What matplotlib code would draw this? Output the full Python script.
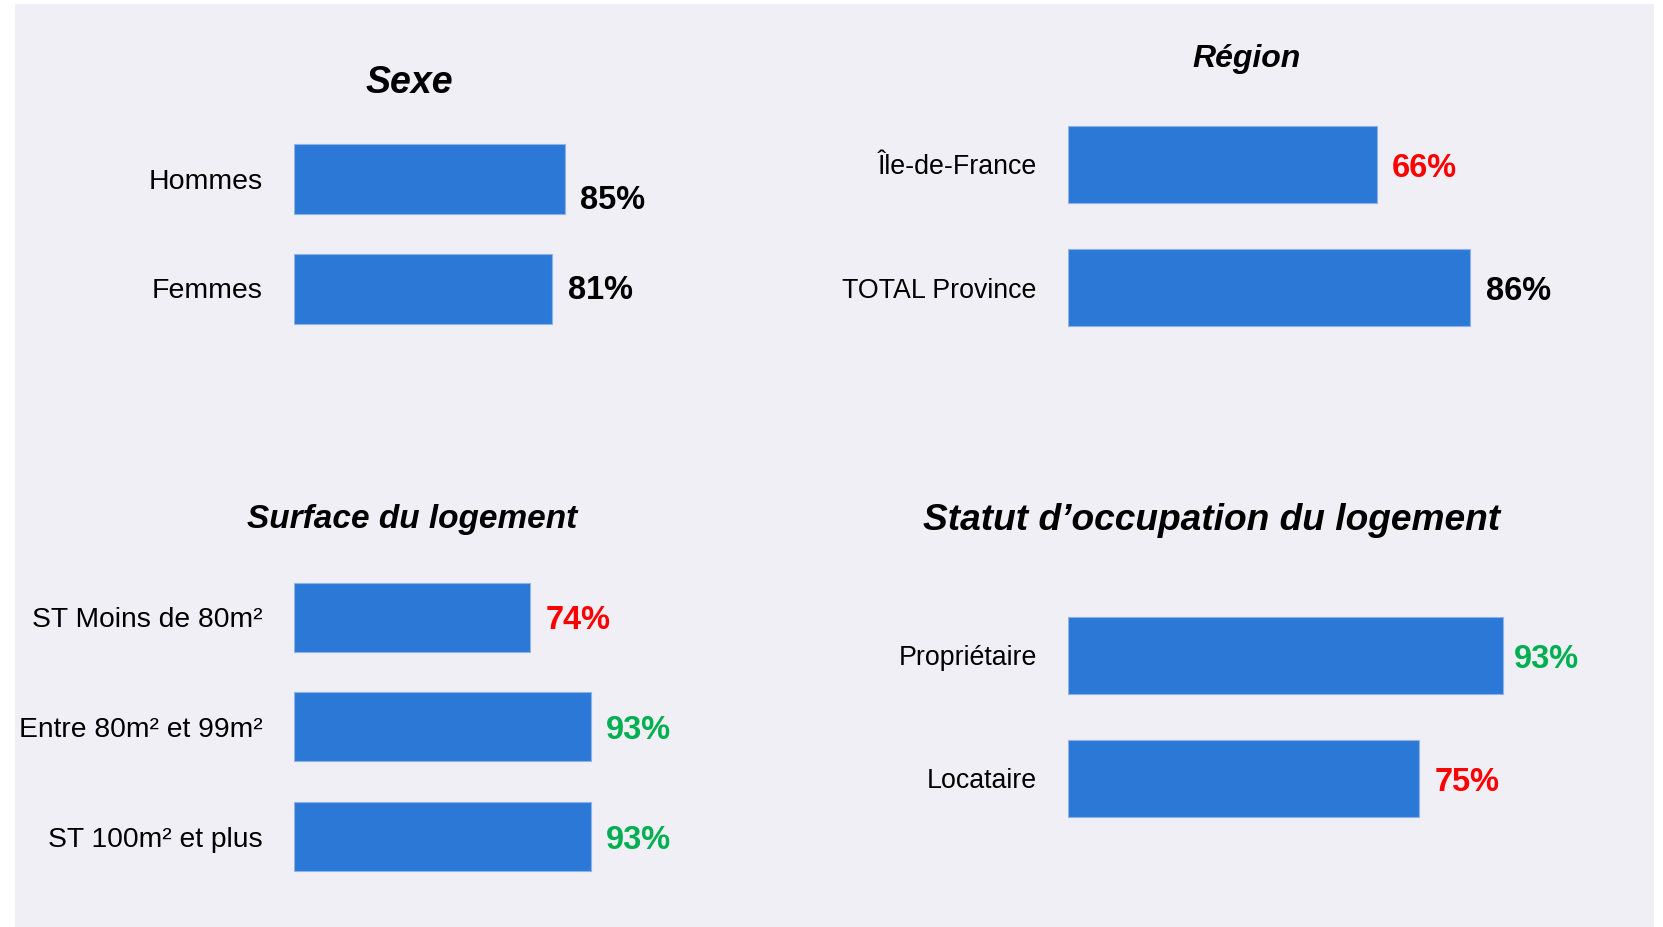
import matplotlib
matplotlib.use("Agg")
import matplotlib.pyplot as plt
from matplotlib.patches import Rectangle

plt.rcParams['font.family'] = ['Liberation Sans', 'DejaVu Sans']

# ---------------- data ----------------
sexe_cats = ["Hommes", "Femmes"]
sexe_vals = [85, 81]
sexe_cols = ["black", "black"]

region_cats = ["Île-de-France", "TOTAL Province"]
region_vals = [66, 86]
region_cols = ["red", "black"]

surface_cats = ["ST Moins de 80m²", "Entre 80m² et 99m²", "ST 100m² et plus"]
surface_vals = [74, 93, 93]
surface_cols = ["red", "#00B050", "#00B050"]

statut_cats = ["Propriétaire", "Locataire"]
statut_vals = [93, 75]
statut_cols = ["#00B050", "red"]

W, H = 1663, 927
BG = "#F0EFF5"
BAR = "#2B78D6"

fig = plt.figure(figsize=(W / 100, H / 100), dpi=100)
fig.patch.set_facecolor("white")
fig.add_artist(Rectangle((15 / W, 0), (1654 - 15) / W, (927 - 4) / H,
                         transform=fig.transFigure, facecolor=BG,
                         edgecolor="none", zorder=-10))


def px_axes(x0, x1, y_top, y_bot):
    return fig.add_axes([x0 / W, 1 - y_bot / H, (x1 - x0) / W, (y_bot - y_top) / H])


def panel(cats, vals, cols, x0, full100, c_first, spacing, bh, title, tx, ty, tsize,
          tick_size=20.5, label_dy=None, label_dx=None):
    n = len(cats)
    y_top = c_first - spacing / 2
    y_bot = c_first + spacing * (n - 1) + spacing / 2
    ax = px_axes(x0, x0 + full100, y_top, y_bot)
    ax.set_facecolor("none")
    ypos = list(range(n))
    ax.barh(ypos, vals, height=bh / spacing, color=BAR,
            edgecolor="#8CB4EA", linewidth=0.8)
    ax.set_xlim(0, 100)
    ax.set_ylim(n - 0.5, -0.5)
    ax.set_yticks(ypos)
    ax.set_yticklabels(cats, fontsize=tick_size)
    ax.tick_params(axis="y", length=0, pad=22.5)
    ax.set_xticks([])
    for s in ax.spines.values():
        s.set_visible(False)
    for i, (v, c) in enumerate(zip(vals, cols)):
        dy = label_dy[i] if label_dy else 0.035
        dx = label_dx[i] if label_dx else 11
        ax.annotate(f"{v}%", (v, i + dy), xytext=(dx, 0), textcoords="offset points",
                    ha="left", va="center", fontsize=23.5, fontweight="bold", color=c)
    fig.text(tx / W, 1 - ty / H, title, ha="center", va="center",
             fontsize=tsize, fontweight="bold", fontstyle="italic")
    return ax


panel(sexe_cats, sexe_vals, sexe_cols, 294, 319, 179, 109.5, 70,
      "Sexe", 409, 83, 27, label_dy=[0.2, 0.02])
panel(region_cats, region_vals, region_cols, 1068, 468, 164.5, 123, 76.5,
      "Région", 1247, 58.5, 23, tick_size=19.3)
panel(surface_cats, surface_vals, surface_cols, 294, 319, 617, 109.8, 69,
      "Surface du logement", 412, 519.5, 24, tick_size=20.3)
panel(statut_cats, statut_vals, statut_cols, 1068, 468, 655, 123, 77,
      "Statut d\u2019occupation du logement", 1212, 520.5, 26.7, tick_size=19.3,
      label_dx=[8, 11])

fig.savefig("out.png", dpi=100, facecolor=fig.get_facecolor())
